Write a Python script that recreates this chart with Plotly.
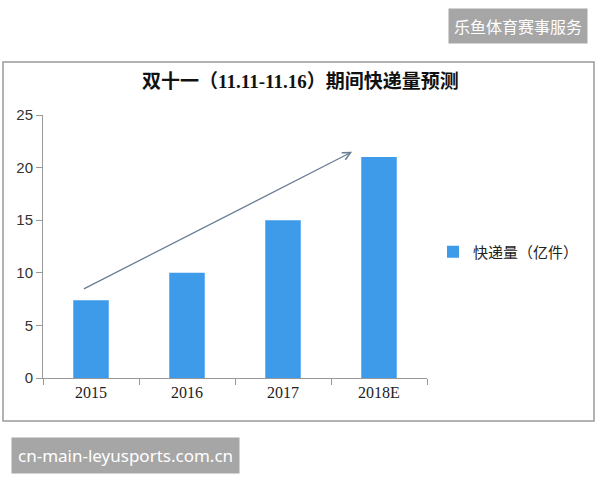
import plotly.graph_objects as go

categories = ["2015", "2016", "2017", "2018E"]
values = [7.4, 10, 15, 21]
y_ticks = [0, 5, 10, 15, 20, 25]
series_name = "快递量（亿件）"
title_text = "双十一（11.11-11.16）期间快递量预测"
trend_start = (-0.09, 8.4)
trend_end = (2.72, 21.5)

L, R, T, B = 43, 173, 115, 102
PW, PH = 600 - L - R, 480 - T - B


def px(x):
    return (x - L) / PW


def py(y):
    return (480 - B - y) / PH


fig = go.Figure()
fig.add_trace(go.Bar(
    x=categories, y=values, name=series_name,
    marker=dict(color="#3d9bea", line=dict(width=0)),
    width=0.37, showlegend=True,
))

fig.update_layout(
    width=600, height=480,
    margin=dict(l=L, r=R, t=T, b=B, autoexpand=False),
    paper_bgcolor="white", plot_bgcolor="white",
    showlegend=True,
    legend=dict(x=px(433), y=py(252), xanchor="left", yanchor="middle",
                font=dict(family="Noto Sans CJK SC", size=15, color="#222"),
                bgcolor="rgba(0,0,0,0)", itemwidth=30),
    xaxis=dict(type="category", tickson="boundaries", ticks="outside", ticklen=6,
               tickcolor="#999", showline=True, linecolor="#999", linewidth=1,
               showgrid=False, range=[-0.5, 3.5],
               tickfont=dict(family="Liberation Serif, Noto Sans CJK SC", size=16, color="#222")),
    yaxis=dict(range=[0, 25], tickvals=y_ticks, ticks="outside", ticklen=6,
               tickcolor="#999", showline=True, linecolor="#999", linewidth=1,
               showgrid=False, zeroline=False,
               tickfont=dict(family="Liberation Sans, Arial", size=15, color="#333")),
    shapes=[dict(type="rect", xref="paper", yref="paper",
                 x0=px(3), x1=px(594), y0=py(421), y1=py(62),
                 line=dict(color="#9a9a9a", width=1.5), fillcolor="rgba(0,0,0,0)",
                 layer="below")],
)

fig.add_annotation(
    x=trend_end[0], y=trend_end[1], ax=trend_start[0], ay=trend_start[1],
    xref="x", yref="y", axref="x", ayref="y", text="",
    showarrow=True, arrowhead=5, arrowsize=1.2, arrowwidth=1.3, arrowcolor="#6b7d96",
)

fig.add_annotation(
    x=px(300), y=py(81), xref="paper", yref="paper", xanchor="center", yanchor="middle",
    text="<b>" + title_text + "</b>",
    showarrow=False, font=dict(family="Liberation Serif, Noto Sans CJK SC", size=19, color="#111"),
)

fig.add_annotation(
    x=px(518), y=py(26), xref="paper", yref="paper", xanchor="center", yanchor="middle",
    text="乐鱼体育赛事服务", showarrow=False,
    font=dict(family="Noto Sans CJK SC", size=16, color="white"),
    bgcolor="#a6a6a6", borderpad=5,
)
fig.add_annotation(
    x=px(125), y=py(455), xref="paper", yref="paper", xanchor="center", yanchor="middle",
    text="cn-main-leyusports.com.cn", showarrow=False,
    font=dict(family="Noto Sans", size=17, color="white"),
    bgcolor="#a6a6a6", borderpad=6,
)

fig.write_html("out.html")
